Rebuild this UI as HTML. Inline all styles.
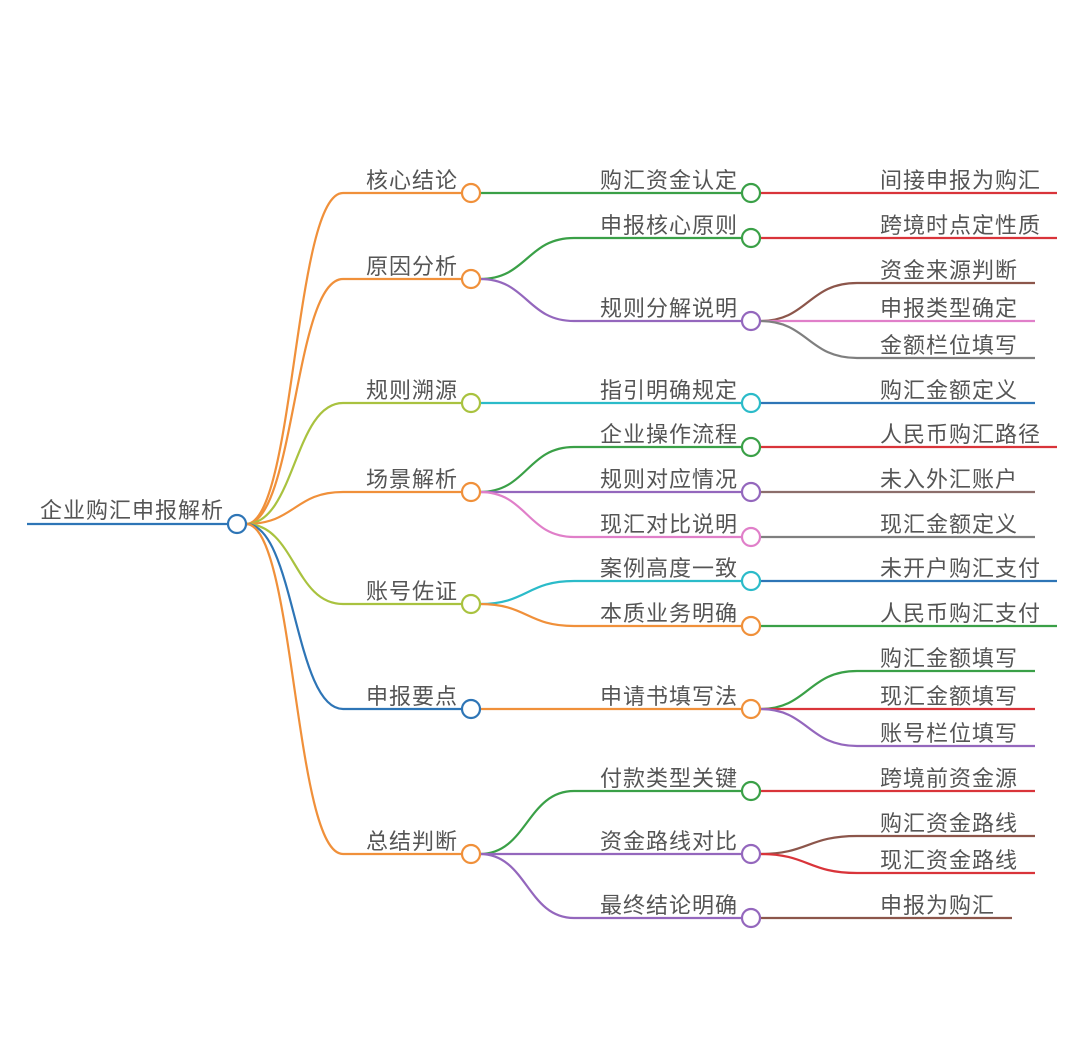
<!DOCTYPE html>
<html><head><meta charset="utf-8"><style>
html,body{margin:0;padding:0;background:#fff;}
svg{display:block;}
text{font-family:"Liberation Sans","Noto Sans CJK SC",sans-serif;font-size:22px;letter-spacing:1px;fill:#555;}
path{fill:none;stroke-width:2.2;}
circle{fill:#fff;stroke-width:2.2;}
.r{text-anchor:end;}
</style></head><body>
<svg width="1080" height="1041" viewBox="0 0 1080 1041">
<path d="M27,524 L228,524" stroke="#2e75b6"/>
<text x="40" y="518">企业购汇申报解析</text>

<path d="M246,524 C295,524 294,193 343,193 L462,193" stroke="#f0903a"/>
<path d="M246,524 C295,524 294,279 343,279 L462,279" stroke="#f0903a"/>
<path d="M246,524 C295,524 294,403 343,403 L462,403" stroke="#a9c23f"/>
<path d="M246,524 C295,524 294,492 343,492 L462,492" stroke="#f0903a"/>
<path d="M246,524 C295,524 294,604 343,604 L462,604" stroke="#a9c23f"/>
<path d="M246,524 C295,524 294,709 343,709 L462,709" stroke="#2e75b6"/>
<path d="M246,524 C295,524 294,854 343,854 L462,854" stroke="#f0903a"/>
<circle cx="237" cy="524" r="9" stroke="#2e75b6"/>

<text class="r" x="458" y="188">核心结论</text>
<text class="r" x="458" y="274">原因分析</text>
<text class="r" x="458" y="398">规则溯源</text>
<text class="r" x="458" y="487">场景解析</text>
<text class="r" x="458" y="599">账号佐证</text>
<text class="r" x="458" y="704">申报要点</text>
<text class="r" x="458" y="849">总结判断</text>

<path d="M480,193 L742,193" stroke="#3aa047"/>
<path d="M480,279 C527,279 527,238 574,238 L742,238" stroke="#3aa047"/>
<path d="M480,279 C527,279 527,321 574,321 L742,321" stroke="#9467bd"/>
<path d="M480,403 L742,403" stroke="#2bbbc9"/>
<path d="M480,492 C527,492 527,447 574,447 L742,447" stroke="#3aa047"/>
<path d="M480,492 L742,492" stroke="#9467bd"/>
<path d="M480,492 C527,492 527,537 574,537 L742,537" stroke="#e07fc9"/>
<path d="M480,604 C527,604 527,581 574,581 L742,581" stroke="#2bbbc9"/>
<path d="M480,604 C527,604 527,626 574,626 L742,626" stroke="#f0903a"/>
<path d="M480,709 L742,709" stroke="#f0903a"/>
<path d="M480,854 C527,854 527,791 574,791 L742,791" stroke="#3aa047"/>
<path d="M480,854 L742,854" stroke="#9467bd"/>
<path d="M480,854 C527,854 527,918 574,918 L742,918" stroke="#9467bd"/>

<circle cx="471" cy="193" r="9" stroke="#f0903a"/>
<circle cx="471" cy="279" r="9" stroke="#f0903a"/>
<circle cx="471" cy="403" r="9" stroke="#a9c23f"/>
<circle cx="471" cy="492" r="9" stroke="#f0903a"/>
<circle cx="471" cy="604" r="9" stroke="#a9c23f"/>
<circle cx="471" cy="709" r="9" stroke="#2e75b6"/>
<circle cx="471" cy="854" r="9" stroke="#f0903a"/>

<text class="r" x="738" y="188">购汇资金认定</text>
<text class="r" x="738" y="233">申报核心原则</text>
<text class="r" x="738" y="316">规则分解说明</text>
<text class="r" x="738" y="398">指引明确规定</text>
<text class="r" x="738" y="442">企业操作流程</text>
<text class="r" x="738" y="487">规则对应情况</text>
<text class="r" x="738" y="532">现汇对比说明</text>
<text class="r" x="738" y="576">案例高度一致</text>
<text class="r" x="738" y="621">本质业务明确</text>
<text class="r" x="738" y="704">申请书填写法</text>
<text class="r" x="738" y="786">付款类型关键</text>
<text class="r" x="738" y="849">资金路线对比</text>
<text class="r" x="738" y="913">最终结论明确</text>

<path d="M760,193 L1057,193" stroke="#d9343a"/>
<path d="M760,238 L1057,238" stroke="#d9343a"/>
<path d="M760,321 C808,321 808,283 857,283 L1035,283" stroke="#8c564b"/>
<path d="M760,321 L1035,321" stroke="#e07fc9"/>
<path d="M760,321 C808,321 808,358 857,358 L1035,358" stroke="#7f7f7f"/>
<path d="M760,403 L1035,403" stroke="#2e75b6"/>
<path d="M760,447 L1057,447" stroke="#d9343a"/>
<path d="M760,492 L1035,492" stroke="#8c6e6b"/>
<path d="M760,537 L1035,537" stroke="#7f7f7f"/>
<path d="M760,581 L1057,581" stroke="#2e75b6"/>
<path d="M760,626 L1057,626" stroke="#3aa047"/>
<path d="M760,709 C808,709 808,671 857,671 L1035,671" stroke="#3aa047"/>
<path d="M760,709 L1035,709" stroke="#d9343a"/>
<path d="M760,709 C808,709 808,746 857,746 L1035,746" stroke="#9467bd"/>
<path d="M760,791 L1035,791" stroke="#d9343a"/>
<path d="M760,854 C808,854 808,836 857,836 L1035,836" stroke="#8c564b"/>
<path d="M760,854 C808,854 808,873 857,873 L1035,873" stroke="#d9343a"/>
<path d="M760,918 L1012,918" stroke="#8c564b"/>

<circle cx="751" cy="193" r="9" stroke="#3aa047"/>
<circle cx="751" cy="238" r="9" stroke="#3aa047"/>
<circle cx="751" cy="321" r="9" stroke="#9467bd"/>
<circle cx="751" cy="403" r="9" stroke="#2bbbc9"/>
<circle cx="751" cy="447" r="9" stroke="#3aa047"/>
<circle cx="751" cy="492" r="9" stroke="#9467bd"/>
<circle cx="751" cy="537" r="9" stroke="#e07fc9"/>
<circle cx="751" cy="581" r="9" stroke="#2bbbc9"/>
<circle cx="751" cy="626" r="9" stroke="#f0903a"/>
<circle cx="751" cy="709" r="9" stroke="#f0903a"/>
<circle cx="751" cy="791" r="9" stroke="#3aa047"/>
<circle cx="751" cy="854" r="9" stroke="#9467bd"/>
<circle cx="751" cy="918" r="9" stroke="#9467bd"/>

<text x="880" y="188">间接申报为购汇</text>
<text x="880" y="233">跨境时点定性质</text>
<text x="880" y="278">资金来源判断</text>
<text x="880" y="316">申报类型确定</text>
<text x="880" y="353">金额栏位填写</text>
<text x="880" y="398">购汇金额定义</text>
<text x="880" y="442">人民币购汇路径</text>
<text x="880" y="487">未入外汇账户</text>
<text x="880" y="532">现汇金额定义</text>
<text x="880" y="576">未开户购汇支付</text>
<text x="880" y="621">人民币购汇支付</text>
<text x="880" y="666">购汇金额填写</text>
<text x="880" y="704">现汇金额填写</text>
<text x="880" y="741">账号栏位填写</text>
<text x="880" y="786">跨境前资金源</text>
<text x="880" y="831">购汇资金路线</text>
<text x="880" y="868">现汇资金路线</text>
<text x="880" y="913">申报为购汇</text>
</svg>
</body></html>
